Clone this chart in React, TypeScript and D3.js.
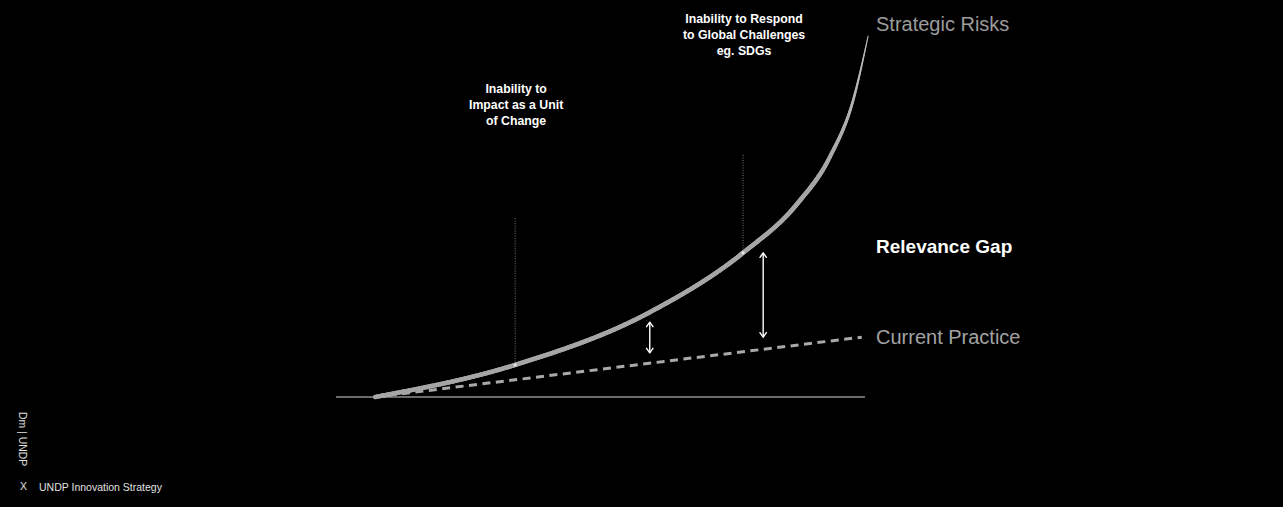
import React, { useEffect, useRef } from 'react';
import * as d3 from 'd3';

// Strategic risks curve (x = time, y = pressure)
const riskX = [7.4, 33.8, 59.3, 76.8, 87, 93.2, 97.6, 100.4];
const riskY = [0, 8.8, 23.3, 39.5, 52.9, 65.8, 81.4, 98.9];

// Current practice, a straight dashed trend
const practiceX = [7.4, 99.2];
const practiceY = [0, 16.4];

// Vertical markers on the curve and how high their dotted line goes
const markerX = [33.8, 76.8];
const markerTop = [49, 66.3];
const markerText = [
  ['Inability to', 'Impact as a Unit', 'of Change'],
  ['Inability to Respond', 'to Global Challenges', 'eg. SDGs'],
];

// Double arrows showing the gap
const gapX = [59.2, 80.6];
const gapTop = [20.5, 39.5];
const gapBottom = [12.1, 16.4];

const seriesLabels = ['Strategic Risks', 'Relevance Gap', 'Current Practice'];

const W = 1283;
const H = 507;
const FONT = '"Liberation Sans", Arial, Helvetica, sans-serif';

const App: React.FC = () => {
  const ref = useRef<SVGSVGElement | null>(null);

  useEffect(() => {
    document.body.style.margin = '0';
    document.body.style.background = '#000';
    if (!ref.current) return;
    const svg = d3.select(ref.current);
    svg.selectAll('*').remove();

    const x = d3.scaleLinear().domain([0, 100]).range([336, 866]);
    const y = d3.scaleLinear().domain([0, 100]).range([397, 32]);

    svg.append('rect').attr('width', W).attr('height', H).attr('fill', '#000');

    // baseline
    svg.append('line')
      .attr('x1', x(0)).attr('x2', x(99.8))
      .attr('y1', y(0)).attr('y2', y(0))
      .attr('stroke', '#8f8f8f')
      .attr('stroke-width', 1.4);

    // dotted markers
    markerX.forEach((mx, i) => {
      svg.append('line')
        .attr('x1', x(mx)).attr('x2', x(mx))
        .attr('y1', y(markerTop[i])).attr('y2', y(riskY[riskX.indexOf(mx)]))
        .attr('stroke', '#8a8a8a')
        .attr('stroke-width', 0.9)
        .attr('stroke-dasharray', '1,1.5');
    });

    // dashed current practice
    const line = d3.line<number>()
      .x((_, i) => x(practiceX[i]))
      .y(d => y(d));
    svg.append('path')
      .datum(practiceY)
      .attr('d', line)
      .attr('fill', 'none')
      .attr('stroke', '#a9a9a9')
      .attr('stroke-width', 3)
      .attr('stroke-dasharray', '8,5.5');

    // strategic risks curve, tapering at the top
    const riskLine = d3.line<number>()
      .x((_, i) => x(riskX[i]))
      .y(d => y(d))
      .curve(d3.curveMonotoneX);
    const guide = svg.append('path')
      .datum(riskY)
      .attr('d', riskLine)
      .attr('fill', 'none')
      .attr('stroke', 'none');
    const node = guide.node() as SVGPathElement;
    const len = node.getTotalLength();
    const n = 400;
    const pts = d3.range(n + 1).map(k => node.getPointAtLength((len * k) / n));
    const yStart = y(60);
    const yEnd = y(98.9);
    const g = svg.append('g');
    for (let k = 0; k < n; k++) {
      const a = pts[k];
      const b = pts[k + 1];
      const t = a.y > yStart ? 0 : Math.min(1, (yStart - a.y) / (yStart - yEnd));
      g.append('line')
        .attr('x1', a.x).attr('y1', a.y)
        .attr('x2', b.x).attr('y2', b.y)
        .attr('stroke', d3.interpolateRgb('#a6a6a6', '#bdbdbd')(t))
        .attr('stroke-width', 4.5 - 3.6 * t)
        .attr('stroke-linecap', 'round');
    }

    // marker dots on the curve
    markerX.forEach(mx => {
      svg.append('circle')
        .attr('cx', x(mx))
        .attr('cy', y(riskY[riskX.indexOf(mx)]))
        .attr('r', 1.6)
        .attr('fill', '#e6e6e6');
    });

    // gap arrows
    gapX.forEach((gx, i) => {
      const px = x(gx);
      const top = y(gapTop[i]);
      const bot = y(gapBottom[i]);
      const a = svg.append('g')
        .attr('stroke', '#fff')
        .attr('stroke-width', 1.4)
        .attr('fill', 'none')
        .attr('stroke-linecap', 'round')
        .attr('stroke-linejoin', 'round');
      a.append('line').attr('x1', px).attr('x2', px).attr('y1', top + 0.5).attr('y2', bot - 0.5);
      a.append('path').attr('d', `M${px - 3.2},${top + 4.5}L${px},${top}L${px + 3.2},${top + 4.5}`);
      a.append('path').attr('d', `M${px - 3.2},${bot - 4.5}L${px},${bot}L${px + 3.2},${bot - 4.5}`);
    });

    // annotation text above markers
    const markerBase = [92.7, 23];
    markerText.forEach((lines, i) => {
      const t = svg.append('text')
        .attr('x', x(markerX[i]) + 1)
        .attr('y', markerBase[i])
        .attr('text-anchor', 'middle')
        .attr('fill', '#fff')
        .style('font-family', FONT)
        .style('font-size', '12.3px')
        .style('font-weight', 'bold');
      lines.forEach((s, j) => {
        t.append('tspan')
          .attr('x', x(markerX[i]) + 1)
          .attr('dy', j === 0 ? 0 : 16)
          .text(s);
      });
    });

    // series labels
    const labelY = [31, 253, 344];
    const labelFill = ['#9c9c9c', '#fff', '#a3a3a3'];
    seriesLabels.forEach((s, i) => {
      svg.append('text')
        .attr('x', 876)
        .attr('y', labelY[i])
        .attr('fill', labelFill[i])
        .style('font-family', FONT)
        .style('font-size', i === 1 ? '19px' : '20px')
        .style('font-weight', i === 1 ? 'bold' : 'normal')
        .text(s);
    });

    // footer
    svg.append('text')
      .attr('transform', 'translate(19,412) rotate(90)')
      .attr('fill', '#e0e0e0')
      .style('font-family', FONT)
      .style('font-size', '10.4px')
      .text('Dm | UNDP');
    svg.append('text')
      .attr('x', 20).attr('y', 490)
      .attr('fill', '#e0e0e0')
      .style('font-family', FONT)
      .style('font-size', '10.5px')
      .text('X');
    svg.append('text')
      .attr('x', 39).attr('y', 491)
      .attr('fill', '#e0e0e0')
      .style('font-family', FONT)
      .style('font-size', '10.5px')
      .text('UNDP Innovation Strategy');
  }, []);

  return <svg ref={ref} width={W} height={H} style={{ display: 'block' }} />;
};

export default App;
